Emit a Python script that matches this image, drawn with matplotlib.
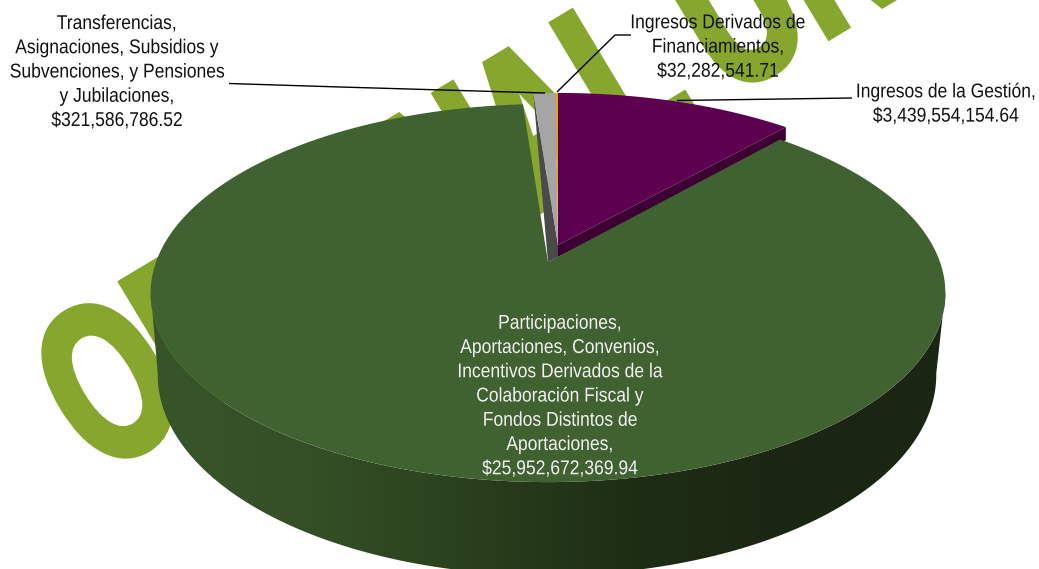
import numpy as np
import matplotlib
matplotlib.use("Agg")
import matplotlib.pyplot as plt
import matplotlib.patheffects as pe
from matplotlib.colors import LinearSegmentedColormap
from matplotlib.patches import Polygon
from matplotlib.transforms import Affine2D

# values of the slices, clockwise from 12 o'clock
slice_values = [3439554154.64, 25952672369.94, 321586786.52, 32282541.71]
slice_colors = ['#5e0050', '#3f6230', '#a5a5a5', '#e8a317']

label_gestion = "Ingresos de la Gestión,\n$3,439,554,154.64"
label_particip = ("Participaciones,\nAportaciones, Convenios,\nIncentivos Derivados de la\n"
                  "Colaboración Fiscal y\nFondos Distintos de\nAportaciones,\n$25,952,672,369.94")
label_transf = ("Transferencias,\nAsignaciones, Subsidios y\nSubvenciones, y Pensiones\n"
                "y Jubilaciones,\n$321,586,786.52")
label_deriv = "Ingresos Derivados de\nFinanciamientos,\n$32,282,541.71"

# watermark letters and their distance along the slanted baseline, in pixels
mark_letters = ['O', 'R', 'I', 'G', 'I', 'N', 'A', 'L', 'U', 'N']
mark_offsets = [0, 105, 178, 255, 322, 405, 501, 600, 731, 840]

# side wall shading from left to right
side_colors = ['#38552a', '#344f26', '#2a401d', '#1e2e15', '#1b2612', '#1b2612']

K = 0.164  # perspective of the pie plane


class Squeeze(pe.AbstractPathEffect):
    # narrows each line of text around its own middle, optionally fattening it
    def __init__(self, sx, fatten=0):
        self.sx = sx
        self.fatten = fatten

    def draw_path(self, renderer, gc, tpath, affine, rgbFace=None):
        ext = tpath.get_extents()
        mid = (ext.x0 + ext.x1) / 2
        squeeze = Affine2D().translate(-mid, 0).scale(self.sx, 1).translate(mid, 0)
        if self.fatten:
            gc.set_linewidth(self.fatten)
            gc.set_foreground(rgbFace)
            gc.set_joinstyle('miter')
        renderer.draw_path(gc, tpath, squeeze + affine, rgbFace)


def rim(theta, cx, cy, a, b):
    u = np.sin(theta)
    v = -np.cos(theta)
    w = 1 - K * v
    return np.column_stack([cx + a * u / w, cy + b * v / w])


def wedge(start, end, cx, cy, a, b):
    th = np.linspace(start, end, 300)
    return np.vstack([[cx, cy], rim(th, cx, cy, a, b)])


fig = plt.figure(figsize=(10.39, 5.69), dpi=100)
ax = fig.add_axes([0, 0, 1, 1])
ax.set_xlim(0, 1039)
ax.set_ylim(569, 0)
ax.axis('off')

edges = np.cumsum([0] + slice_values) / sum(slice_values) * 2 * np.pi

# watermark behind the pie
ang = np.radians(31)
along = np.array([np.cos(ang), -np.sin(ang)])
down = np.array([np.sin(ang), np.cos(ang)])
for letter, s in zip(mark_letters, mark_offsets):
    x, y = np.array([105, 377]) + s * along + 81 * down
    ax.text(x, y, letter, color='#86a62e', fontsize=160, family='Liberation Sans', weight='bold',
            rotation=31, rotation_mode='anchor', ha='center', va='baseline', zorder=1,
            path_effects=[Squeeze(0.66, fatten=5.5)])

# small slices, pulled away from the big one
gest_cx, gest_cy, gest_a, gest_b = 558, 245, 385, 177
tip = rim(edges[1], gest_cx, gest_cy, gest_a, gest_b)[0]
ax.add_patch(Polygon([[gest_cx, gest_cy], tip, tip + [0, 13], [gest_cx, gest_cy + 12]],
                     fc='#3c0033', ec='none', zorder=2))
corner = rim(edges[2], gest_cx, gest_cy, gest_a, gest_b)[0]
ax.add_patch(Polygon([corner, [gest_cx, gest_cy], [gest_cx, gest_cy + 12], [gest_cx - 10, gest_cy + 17]],
                     fc='#4a4a4a', ec='none', zorder=2))
for i in [0, 2, 3]:
    ax.add_patch(Polygon(wedge(edges[i], edges[i + 1], gest_cx, gest_cy, gest_a, gest_b),
                         fc=slice_colors[i], ec='none', zorder=3))

# big slice: shaded wall first, then the top face
th_front = np.linspace(np.radians(99), np.radians(261), 300)
wall = np.vstack([rim(th_front, 548, 262, 392, 184), rim(th_front[::-1], 547, 342, 384, 195)])
wall_patch = Polygon(wall, fc='none', ec='none', transform=ax.transData)
ax.add_patch(wall_patch)
side_cmap = LinearSegmentedColormap.from_list('side', side_colors)
img = ax.imshow(np.linspace(0, 1, 256)[None, :], cmap=side_cmap, aspect='auto',
                extent=[148, 946, 580, 290], zorder=4)
img.set_clip_path(wall_patch)
ax.set_xlim(0, 1039)
ax.set_ylim(569, 0)
ax.add_patch(Polygon(wedge(edges[1], edges[2], 548, 262, 392, 184),
                     fc=slice_colors[1], ec='none', zorder=5))

# leader lines
line_style = dict(color='black', lw=1.0, zorder=6, solid_capstyle='butt')
ax.plot([229, 340, 545], [83.5, 87, 93], **line_style)
ax.plot([631, 615, 557], [35, 35, 92], **line_style)
ax.plot([852, 677], [98, 100.5], **line_style)

# labels
label_style = dict(fontsize=14.4, family='Liberation Sans', ha='center', va='center',
                   multialignment='center', linespacing=1.35, zorder=7,
                   path_effects=[Squeeze(0.875)])
ax.text(117, 72, label_transf, color='#111111', **label_style)
ax.text(718, 47, label_deriv, color='#111111', **label_style)
ax.text(946, 104, label_gestion, color='#111111', **label_style)
ax.text(560, 396, label_particip, color='#f2f2f2', **label_style)

plt.savefig('out.png', dpi=100)
